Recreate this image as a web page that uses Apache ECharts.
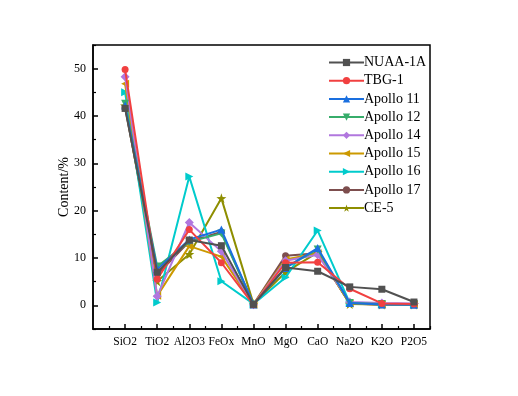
<!DOCTYPE html>
<html>
<head>
<meta charset="utf-8">
<script src="https://cdn.jsdelivr.net/npm/echarts@6/dist/echarts.min.js"></script>
<style>
  html, body { margin: 0; padding: 0; background: #fff; }
  #main { width: 518px; height: 396px; }
</style>
</head>
<body>
<div id="main"></div>
<script>
// oxides on the x axis (placed at 1..10)
var oxides = ['SiO2', 'TiO2', 'Al2O3', 'FeOx', 'MnO', 'MgO', 'CaO', 'Na2O', 'K2O', 'P2O5'];
var names = ['NUAA-1A', 'TBG-1', 'Apollo 11', 'Apollo 12', 'Apollo 14', 'Apollo 15', 'Apollo 16', 'Apollo 17', 'CE-5'];

var nuaa1a   = [41.6, 7.0, 13.8, 12.6, 0.2, 8.0, 7.2, 3.9, 3.4, 0.7];
var tbg1     = [49.8, 5.5, 16.0, 9.0, 0.1, 9.0, 9.1, 3.5, 0.4, 0.3];
var apollo11 = [42.2, 7.6, 13.9, 16.0, 0.2, 7.9, 12.1, 0.5, 0.2, 0.1];
var apollo12 = [42.6, 8.2, 13.4, 15.2, 0.2, 8.0, 11.8, 0.5, 0.3, 0.3];
var apollo14 = [48.3, 1.9, 17.5, 11.4, 0.1, 9.4, 10.7, 0.7, 0.5, 0.4];
var apollo15 = [46.8, 2.0, 12.5, 10.3, 0.2, 9.7, 11.0, 0.4, 0.2, 0.2];
var apollo16 = [45.0, 0.6, 27.2, 5.1, 0.3, 5.9, 15.8, 0.5, 0.2, 0.1];
var apollo17 = [41.8, 6.5, 13.5, 15.5, 0.2, 10.5, 11.0, 0.4, 0.1, 0.1];
var ce5      = [42.2, 5.1, 10.8, 22.6, 0.3, 7.0, 11.2, 0.3, 0.2, 0.2];

var yLabels = [0, 10, 20, 30, 40, 50];
var yMinor = [-5, 5, 15, 25, 35, 45, 55];
var xMajor = [1, 2, 3, 4, 5, 6, 7, 8, 9, 10];
var xMinor = [0.5, 1.5, 2.5, 3.5, 4.5, 5.5, 6.5, 7.5, 8.5, 9.5, 10.5];

var colors = ['#515151', '#F14040', '#1A6FDF', '#37AD6B', '#B177DE', '#CC9900', '#00CBCC', '#7D4E4E', '#8E8E00'];
var star = 'path://M0,-10 L2.35,-3.24 L9.51,-3.09 L3.8,1.24 L5.88,8.09 L0,4 L-5.88,8.09 L-3.8,1.24 L-9.51,-3.09 L-2.35,-3.24 Z';
var symbols = ['rect', 'circle', 'triangle', 'triangle', 'diamond', 'triangle', 'triangle', 'circle', star];
var rotates = [0, 0, 0, 180, 0, 90, -90, 0, 0];
var sizes = [7, 7, 8, 8, 9, 8, 8, 7, 10];
var values = [nuaa1a, tbg1, apollo11, apollo12, apollo14, apollo15, apollo16, apollo17, ce5];

var font = 'Liberation Serif';

var series = [];
for (var i = 0; i < names.length; i++) {
  series.push({
    name: names[i],
    type: 'line',
    data: values[i].map(function (v, j) { return [j + 1, v]; }),
    symbol: symbols[i],
    symbolRotate: rotates[i],
    symbolSize: sizes[i],
    lineStyle: { width: 2, color: colors[i] },
    itemStyle: { color: colors[i] },
    z: 10 - i
  });
}

var axisLine = { show: true, onZero: false, lineStyle: { color: '#000', width: 1.5 } };

var myChart = echarts.init(document.getElementById('main'));
myChart.setOption({
  animation: false,
  color: colors,
  grid: { left: 93, right: 88, top: 45, bottom: 67, show: true, borderColor: '#000', borderWidth: 1.5 },
  legend: {
    orient: 'vertical',
    left: 323,
    top: 50,
    itemWidth: 35,
    itemHeight: 9,
    itemGap: 3.2,
    data: names,
    textStyle: { fontFamily: font, fontSize: 14, color: '#000', padding: [0, 0, 0, -5], lineHeight: 15 }
  },
  xAxis: [{
    type: 'value', min: 0, max: 10.5,
    axisLine: axisLine,
    splitLine: { show: false },
    axisTick: { show: true, inside: true, length: 5, customValues: xMajor, lineStyle: { color: '#000', width: 1.5 } },
    axisLabel: {
      customValues: xMajor, fontFamily: font, fontSize: 11.5, color: '#000', margin: 7,
      formatter: function (v) { return oxides[Math.round(v) - 1] || ''; }
    }
  }, {
    type: 'value', min: 0, max: 10.5, position: 'bottom',
    axisLine: { show: false, onZero: false },
    splitLine: { show: false },
    axisTick: { show: true, inside: true, length: 3, customValues: xMinor, lineStyle: { color: '#000', width: 1.2 } },
    axisLabel: { show: false }
  }],
  yAxis: [{
    type: 'value', min: -5, max: 55,
    name: 'Content/%', nameLocation: 'middle', nameGap: 22, nameMoveOverlap: false,
    nameTextStyle: { fontFamily: font, fontSize: 14, color: '#000' },
    axisLine: axisLine,
    splitLine: { show: false },
    axisTick: { show: true, inside: true, length: 5, customValues: yLabels, lineStyle: { color: '#000', width: 1.5 } },
    axisLabel: { customValues: yLabels, fontFamily: font, fontSize: 12, color: '#000', margin: 7 }
  }, {
    type: 'value', min: -5, max: 55, position: 'left',
    axisLine: { show: false, onZero: false },
    splitLine: { show: false },
    axisTick: { show: true, inside: true, length: 3, customValues: yMinor, lineStyle: { color: '#000', width: 1.2 } },
    axisLabel: { show: false }
  }],
  series: series
});
</script>
</body>
</html>
